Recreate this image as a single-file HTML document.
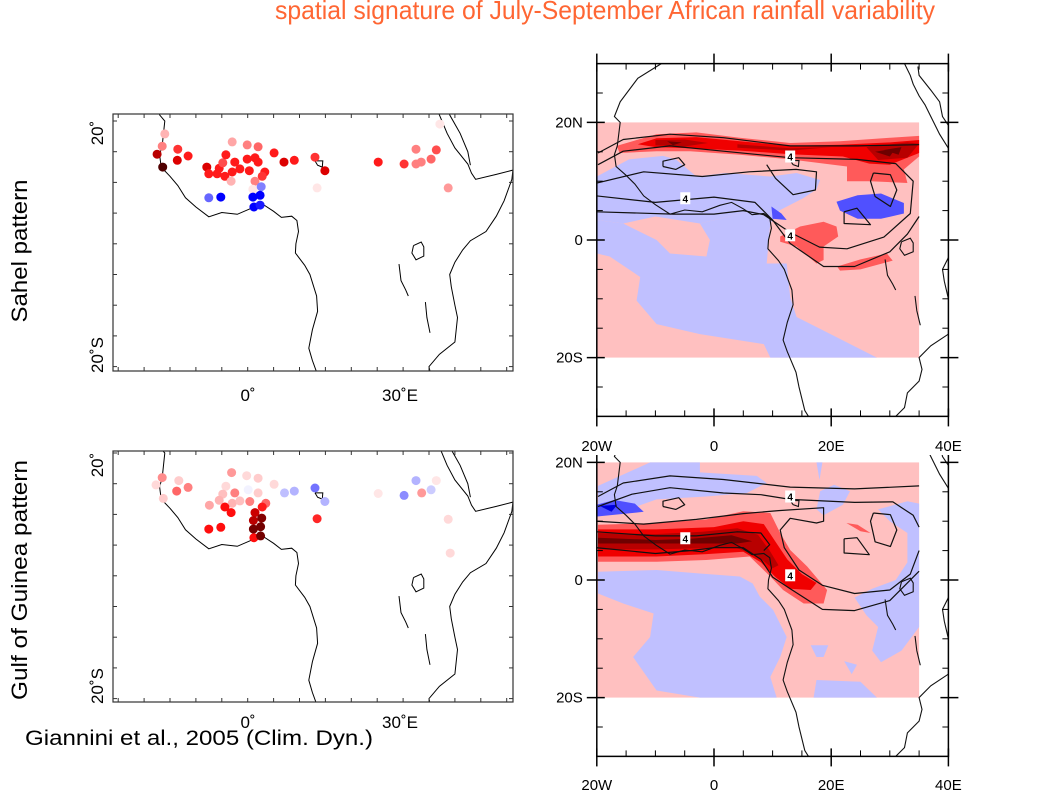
<!DOCTYPE html>
<html><head><meta charset="utf-8"><style>
html,body{margin:0;padding:0;background:#fff;}
svg{display:block;font-family:"Liberation Sans",Arial,sans-serif;}
</style></head><body>
<svg id="fig" width="1058" height="793" viewBox="0 0 1058 793" xmlns="http://www.w3.org/2000/svg">
<defs>
<clipPath id="clipLT"><rect x="113" y="114" width="400" height="257"/></clipPath>
<clipPath id="clipLB"><rect x="113" y="451" width="400" height="251"/></clipPath>
<clipPath id="clipRT"><rect x="597" y="64" width="351" height="353"/></clipPath>
<clipPath id="clipRB"><rect x="597" y="455" width="351" height="301"/></clipPath>
</defs>
<text x="605" y="19" text-anchor="middle" font-size="26" textLength="660" lengthAdjust="spacingAndGlyphs" fill="#FF6633">spatial signature of July-September African rainfall variability</text>
<text transform="translate(27,251) rotate(-90)" text-anchor="middle" font-size="22" textLength="143" lengthAdjust="spacingAndGlyphs" fill="#000">Sahel pattern</text>
<text transform="translate(27,580) rotate(-90)" text-anchor="middle" font-size="22" textLength="240" lengthAdjust="spacingAndGlyphs" fill="#000">Gulf of Guinea pattern</text>
<text x="25" y="745" font-size="21" textLength="348" lengthAdjust="spacingAndGlyphs" fill="#000">Giannini et al., 2005 (Clim. Dyn.)</text>
<g id="root"></g>
</svg>
<script>
// ---- station data: Sahel pattern ----
const sahelLon=[-16,-16.5,-13.5,-17.5,-11.5,-13.6,-16.4,-7.9,-7.5,-5.9,-5.5,-4.8,-4.2,-3,-0.1,2,-2.5,-0.1,1.4,2,-4.4,-3,-1.5,0.3,3.3,2.8,-3.2,1.4,1,2.6,-7.5,-5.2,1,2.4,1.2,2.4,5.1,7,9,13,14.9,13.4,25.2,30.2,32.5,32.5,33.5,35.4,36.4,37.1,38.7];
const sahelLat=[17.9,15.9,15.4,14.6,14.3,13.6,12.5,12.5,11.4,11.4,12.3,13.2,14.5,16.6,16.1,15.8,13.3,13.8,14,13.3,11,11.7,12.2,11.9,11.7,11,10.2,10.2,8.9,9.3,7.5,7.6,7.6,7.9,6,6.3,14.8,13.3,13.6,14.1,11.9,9.1,13.3,13,15.4,13,13.3,13.8,15.3,19.5,9.1];
const sahelVal=[0.3,0.5,0.8,1.2,0.9,1.1,1.5,1.1,0.9,0.9,0.9,0.7,0.9,0.35,0.5,0.6,0.9,0.9,0.9,0.9,0.9,0.9,0.9,0.9,0.9,0.8,0.3,0.5,0.1,-0.5,-0.6,-1,-1,-1,-1,-0.9,0.9,1.1,0.9,0.8,1.1,0.1,0.9,0.8,0.5,0.5,0.5,0.6,0.7,0.1,0.4];
// ---- station data: Gulf of Guinea pattern ----
const guineaLon=[-16.5,-17.7,-13.3,-11.5,-13.7,-16.3,-3.1,-0.2,2,-4.2,0.1,2,-2.5,-4.8,5.1,7.1,9,13,14.9,-7.4,-5.5,-3,-1.5,0.4,3.5,-4.4,-3.2,2.8,1.4,1.1,2.7,1.1,2.5,1.2,2.5,-7.5,-5.2,13.4,25.2,30.2,32.5,33.6,35.4,36.4,38.7,39.1];
const guineaLat=[16,14.8,15.5,14.4,13.8,12.6,16.8,16.3,15.9,14.6,14,13.5,13.5,13.3,14.9,13.5,13.8,14.3,12.1,11.5,12.3,11.8,12.2,12.1,11.8,11.2,10.3,11.2,10.3,9,9.4,7.6,8,6.2,6.5,7.6,7.9,9.3,13.4,13.1,15.5,13.5,14,15.5,9.2,3.7];
const guineaVal=[0.45,0.15,0.2,0.5,0.6,0.2,0.4,0.15,0.2,0.15,-0.05,0.2,0.5,0.25,0.15,-0.25,-0.3,-0.55,-0.3,0.35,0.3,0.3,0.25,0.5,0.6,0.95,0.95,0.9,1.15,1.2,1.35,1.4,1.4,0.95,1.4,0.95,0.95,0.85,0.1,-0.45,-0.3,0.4,-0.2,0.1,0.15,0.15];
// ---- gridded regression fields (lon,lat polygons with shade level) ----
const sahelShadeLevels=["blue1","blue1","blue2","blue3","blue2","red1","red2","red3","red3","red4","red4","red3","red4","red1","red1"];
const sahelShadePolys=[
 [[-20,3.4],[-15.5,2.8],[-9.8,0],[-7.5,-2.3],[-1.3,-2.8],[-0.7,0],[-2.4,2.8],[2.7,4],[7.3,5.1],[9.6,2.8],[9,-4],[12.4,-4],[13,-9.7],[14.1,-13.1],[18.7,-15.4],[27.8,-20],[9.6,-20],[8.5,-17.7],[-2.4,-16],[-9.8,-14.3],[-13.2,-10.3],[-12.6,-6.3],[-17.8,-2.8],[-20,-2.3]],
 [[-20,10.8],[-14.5,13.7],[-8.7,14.3],[-6.5,13.7],[-3,10.8],[2,11.4],[9.6,10.8],[14.1,11.4],[18.1,10.2],[17.5,8.6],[15.2,7.1],[11.3,5.1],[9.6,2.8],[7.3,5.1],[2.7,4],[-2.4,2.8],[-10,4],[-15.5,2.8],[-20,3.4]],
 [[9.8,5.7],[11.5,4.5],[12.4,3.4],[10,3.6]],
 [[23.5,6],[27.5,7],[30,6],[28,4.5],[25,4.8]],
 [[20.9,6.5],[24.5,7.6],[28.5,7.9],[32.4,6.3],[32.4,4.5],[28.5,3.6],[24.5,3.6],[21.5,5]],
 [[-16.6,16],[-9.8,18],[-3,18.3],[4.4,17.4],[13,16.5],[21.5,16.8],[30.1,17.4],[35,17.7],[35,14.2],[32.4,12],[33,9.7],[26.7,10],[22.7,10],[22.7,12.5],[13,13.7],[4.4,14.5],[-4.1,15.1],[-9.8,15.1],[-16.1,14.8]],
 [[-13,16.3],[-9.8,17.3],[-3,17.5],[4.4,16.8],[13,16],[21.5,16.2],[30.1,16.6],[35,17],[35,14.8],[30,12.8],[26.5,13],[22,14.2],[13,14.6],[4.4,15.2],[-4.1,15.6],[-10,15.8]],
 [[-10,17],[-5,17.1],[-1,16.5],[-5,15.9],[-10,16.1]],
 [[26,15.8],[33,16.6],[35,16.4],[33,14],[28,13.6]],
 [[-8,16.8],[-5.5,16.6],[-7,16.1]],
 [[27.5,15],[31,15.6],[30,14.2]],
 [[4,16.3],[13,15.6],[20,15.8],[13,15.2],[4,15.7]],
 [[29,15.3],[32,15.8],[31.5,14.5]],
 [[11.3,0.6],[14.7,2.3],[18.7,3.1],[20.9,2.3],[21.2,0.6],[18.7,-1.1],[18.7,-3.4],[17.5,-4],[14.1,-1.1],[11.3,-0.3]],
 [[21,-4.5],[25,-3.3],[29.5,-2.3],[30.5,-3.5],[25,-5],[21.5,-5.2]]
];
const guineaShadeLevels=["blue1","blue1","blue1","blue1","blue1","blue1","blue1","blue1","blue2","blue3","red1","red2","red3","red4","red1"];
const guineaShadePolys=[
 [[-19.8,1.4],[-9.8,1.7],[-2.4,1.1],[4.4,0.6],[6.6,-0.6],[7.8,-2.8],[10.1,-5.1],[12.4,-9.7],[11.3,-13.1],[9.6,-16.5],[10.7,-20],[-2.4,-20],[-9.8,-18.8],[-13.8,-13.1],[-10.9,-9.7],[-10.3,-5.7],[-15.5,-4],[-19.8,-2.3]],
 [[-19.8,16],[-10.9,20],[-2.4,20],[-2.4,18.3],[7.3,17.7],[9,16.5],[5.6,14.8],[-1.3,14.2],[-9.8,13.7],[-13.8,12.3],[-19.8,10.8]],
 [[28,12],[33,13.4],[35,13],[35,-8],[32,-12],[28.5,-14],[27,-12],[28,-8],[26,-6],[24,-3],[27,-1.5],[31,0],[33,3],[33,8],[30,10]],
 [[18.1,15.1],[20.5,16.2],[23.2,15.1],[22,12.8],[18.7,11],[17.5,12]],
 [[16.5,-11.1],[19.5,-11.1],[18.7,-13.1],[17.5,-13.1]],
 [[22.2,-13.8],[24.4,-14.4],[23.5,-16]],
 [[17.5,-17],[25,-17.3],[27.8,-20],[17,-20]],
 [[17.5,20],[18.5,20],[18,17]],
 [[-20,12.8],[-17,13.6],[-13.5,13],[-12,11.6],[-15,11.3],[-20,10.8]],
 [[-19.5,12.6],[-16.5,12.8],[-17.5,11.6]],
 [[-19.8,9.4],[-9.8,9.7],[-1.3,10.3],[5,11.7],[9.6,11.4],[11.3,8],[13,5.1],[15.9,2.3],[19.3,-1.7],[18.7,-4],[15.3,-4],[11.8,-1.7],[9.6,0.6],[6.1,4],[-1.3,3.4],[-9.8,3.1],[-19.8,3.1]],
 [[-19.8,8.6],[-9.8,8.6],[0,9],[5,10],[8.5,9.5],[10.5,6.5],[12.5,3.5],[15,1],[17.5,-0.5],[16.5,-1.7],[13,-1.5],[10.5,0.5],[8,3],[5,4.8],[-1.3,4.4],[-9.8,4],[-19.8,4]],
 [[-19.8,8],[-10,7.8],[-2,8.2],[4,8.8],[7.5,7.7],[9.5,5],[11,2.5],[10,2],[7.5,4],[3.5,5.6],[-2,5.4],[-10,5.2],[-19.8,5.2]],
 [[-19.8,7.2],[-10,6.8],[-4,7],[3,7.6],[6.5,6.6],[4,6.2],[-4,6.2],[-19.8,6.2]],
 [[22.6,9.7],[24.5,9.4],[26.7,8],[25,8.3]]
];
// ---- contour lines ----
const sahelContours=[
 [[-19.8,14.8],[-15.5,17.1],[-7.5,18],[1.6,17.4],[13,16],[24.4,16],[35,16.2]],
 [[-19.8,12.8],[-15.5,15.1],[-7.5,16],[1.6,15.1],[13,14],[24.4,13.7],[31,13],[34,10],[33.5,4.5],[29,0.5],[22.7,-1.5],[18,-1.2],[13,1.3],[8.5,4.3],[5,5],[0,4.4],[-7,4.4],[-20,4.8]],
 [[-20,7.5],[-10,6.4],[0,7.3],[7,6.4],[10,3.4],[13,-0.6],[18.7,-4.5],[24,-4.5],[30,-2],[33,1],[35,4]],
 [[-20,9.7],[-12,11.6],[-2,10.8],[6,11.6],[14,12],[17.5,11.6],[17.3,8.5],[13.5,7.7],[10.5,10.5],[9,12.8]],
 [[-8.7,12.5],[-6.5,12],[-5,12.8],[-6,14],[-8.7,13.4],[-8.7,12.5]],
 [[27.2,11.4],[30.1,11.1],[31.2,8.5],[30.1,5.7],[27.5,7.4],[26.7,10],[27.2,11.4]],
 [[22.2,4.8],[24.4,5.4],[26.7,2.6],[22.2,2.8],[22.2,4.8]]
];
const guineaContours=[
 [[-19.8,14.2],[-15.5,16.5],[-7.5,17.7],[1.6,17.1],[13,15.8],[24,15.5],[35,16]],
 [[-19.8,12.5],[-14,14.6],[-7.5,15.7],[1.6,14.8],[8,14.5],[13,13.7],[24,13.2],[30.5,13.3],[34,11],[35,9]],
 [[-20,10],[-12,9.5],[-3,10.3],[5,11.3],[11,11.8],[18.7,12.3],[18.7,10],[17.5,9.7],[13,10.5],[11.3,8.5],[12,5.5],[14.5,1.7],[18.5,-0.9],[24,-2.3],[30,-1.7],[33.5,1],[35,5]],
 [[-20,5.5],[-10,4.5],[-4,5],[0,5.5],[5,5.5],[8,3.5],[10,0.5],[13,-1.5],[18.5,-5],[24,-5.2],[30,-3.5],[33,-0.5],[35,1.5]],
 [[-20,8.2],[-10,7.5],[-3,7.5],[4,8.2],[8,8],[9.5,6],[8.5,5]],
 [[-8.7,12.5],[-6.5,12],[-5,12.8],[-6,14],[-8.7,13.4],[-8.7,12.5]],
 [[27.2,11.4],[30.1,11.1],[31.2,8.5],[30.1,5.7],[27.5,6.5],[26.7,10],[27.2,11.4]],
 [[22.2,7],[24.4,7.2],[26.5,4.3],[22.2,4.6],[22.2,7]]
];
const contourLabelLon=[13,-4.9,13];
const contourLabelLat=[14.2,7.1,0.8];
const contourLabelText=["4","4","4"];
// ---- coastlines ----
const coastAfrica=[[-9,30],[-13,27.5],[-16,23.5],[-17,21],[-16,20],[-16.5,16],[-17,14.5],[-16.7,12.5],[-15,11],[-13.5,9.5],[-12,7.5],[-10,6],[-7.5,4.4],[-5,5.1],[-2,4.8],[1,5.9],[3,6.4],[5,5.3],[6.5,4.3],[8.5,4.5],[9.5,3.8],[9.8,2],[9.3,0],[9.2,-1.5],[11,-3.5],[12,-5],[13.3,-8.5],[13.5,-11],[12.5,-14],[11.8,-17],[12.5,-19],[14,-22.5],[14.5,-25],[15.5,-29],[18,-33],[20,-34.8],[25,-34],[27,-33.5],[30,-31],[32.5,-28.5],[33,-26],[35,-24],[35.5,-22],[35,-20],[37,-18],[40,-16],[40.5,-12],[40,-10],[39.3,-7],[39,-5],[40,-3],[41.5,-1],[43,0.5],[46,2],[48,4.5],[49.5,7],[51,10.5],[51.2,12],[48,11.3],[44,10.5],[43.2,11.5],[42.5,13],[40,15.6],[38.5,18],[37,21],[36,23],[35,24.5],[34,26.5],[33.5,28],[32.5,30]];
const coastArabia=[[43,12.8],[42.5,15],[41,18],[39,21],[38.5,23.5],[37,25.5],[35,28],[34.8,29.5]];
const lakeTanganyika=[[29.2,-3.3],[29.6,-6],[30.5,-7.5],[31,-8.5]];
const lakeMalawi=[[34.3,-9.5],[34.6,-12],[35.2,-14.5]];
const lakeVictoria=[[32,-0.3],[33.5,0.3],[34,-0.5],[34,-2],[32.5,-2.6],[31.7,-1.5],[32,-0.3]];
const lakeChad=[[13,13.5],[14.5,13.5],[14.4,12.5],[13.5,12.8],[13,13.5]];
const coastLines=[coastAfrica,coastArabia,lakeTanganyika,lakeMalawi,lakeVictoria,lakeChad];
const rightTickLat=[20,0,-20];
const rightTickLatText=["20N","0","20S"];
const rightTickLon=[-20,0,20,40];
const rightTickLonText=["20W","0","20E","40E"];

const NS="http://www.w3.org/2000/svg";
const root=document.getElementById('root');
function mk(tag,attrs,parent){const e=document.createElementNS(NS,tag);for(const k in attrs)e.setAttribute(k,attrs[k]);(parent||root).appendChild(e);return e;}
// axis functions
const leftX=lon=>247.7+lon*5.18;
const leftYTop=lat=>121+(20-lat)*6.14;
const leftYBot=lat=>453+(20-lat)*6.14;
const rightX=lon=>714+lon*5.86;
const rightYTop=lat=>240-lat*5.88;
const rightYBot=lat=>580-lat*5.88;
const shadeCol={blue1:"#C0C0FF",blue2:"#5050FF",blue3:"#0000DD",red1:"#FF5A5A",red2:"#F00000",red3:"#B80000",red4:"#6E0000"};
function mix(a,b,t){t=Math.max(0,Math.min(1,t));return a.map((v,i)=>Math.round(v+(b[i]-v)*t));}
function dotColor(v){let c;if(v>=0){c=v<=1?mix([255,255,255],[255,0,0],v):mix([255,0,0],[80,0,0],(v-1)/0.5);}else{c=mix([255,255,255],[0,0,255],-v);}return `rgb(${c[0]},${c[1]},${c[2]})`;}
function path(pts,fx,fy,close){return pts.map((p,i)=>(i?'L':'M')+fx(p[0]).toFixed(1)+' '+fy(p[1]).toFixed(1)).join(' ')+(close?' Z':'');}

function leftPanel(name,fy,clip,y0,y1,lons,lats,vals,latLabelY,xlabY){
  const g=mk('g',{'clip-path':`url(#${clip})`});
  
  
  coastLines.forEach(c=>{const p=mk('path',{d:path(c,leftX,fy,false),fill:'none',stroke:'#000','stroke-width':1},g);
    
    });
  for(let i=0;i<lons.length;i++){
    const d=mk('circle',{cx:leftX(lons[i]).toFixed(1),cy:fy(lats[i]).toFixed(1),r:4.5,fill:dotColor(vals[i])},g);
    
    
  }
  const f=mk('rect',{x:113,y:y0,width:400,height:y1-y0,fill:'none',stroke:'#333','stroke-width':1.2});
  
  
  for(let lon=-25;lon<=50;lon+=5){const x=leftX(lon);
    mk('line',{x1:x,y1:y0,x2:x,y2:y0+4,stroke:'#333'});mk('line',{x1:x,y1:y1,x2:x,y2:y1-4,stroke:'#333'});}
  for(let lat=20;lat>=-20;lat-=5){const y=fy(lat);if(y<y0||y>y1)continue;
    mk('line',{x1:113,y1:y,x2:117,y2:y,stroke:'#333'});mk('line',{x1:513,y1:y,x2:509,y2:y,stroke:'#333'});}
  const t1=mk('text',{transform:`translate(103,${latLabelY[0]}) rotate(-90)`,'text-anchor':'middle','font-size':17});t1.textContent='20˚';
  
  
  const t2=mk('text',{transform:`translate(103,${latLabelY[1]}) rotate(-90)`,'text-anchor':'middle','font-size':17});t2.textContent='20˚S';
  
  
  const t3=mk('text',{x:248,y:xlabY,'text-anchor':'middle','font-size':17});t3.textContent='0˚';
  
  
  const t4=mk('text',{x:400,y:xlabY,'text-anchor':'middle','font-size':17});t4.textContent='30˚E';
  
  
}
leftPanel('sahel-stations',leftYTop,'clipLT',114,371,sahelLon,sahelLat,sahelVal,[133,355],401);
leftPanel('guinea-stations',leftYBot,'clipLB',451,702,guineaLon,guineaLat,guineaVal,[465,686],728);

function rightPanel(name,fy,clip,fy0,fy1,polys,levels,contours,labY){
  const g=mk('g',{'clip-path':`url(#${clip})`});
  
  
  const base=mk('rect',{x:rightX(-20),y:fy(20),width:rightX(35)-rightX(-20),height:fy(-20)-fy(20),fill:'#FFC0C0'},g);
  
  
  polys.forEach((p,i)=>{const e=mk('path',{d:path(p,rightX,fy,true),fill:shadeCol[levels[i]]},g);
    
    });
  coastLines.forEach(c=>{const p=mk('path',{d:path(c,rightX,fy,false),fill:'none',stroke:'#111','stroke-width':1.1},g);
    
    });
  contours.forEach(c=>{const p=mk('path',{d:path(c,rightX,fy,false),fill:'none',stroke:'#111','stroke-width':1.2,'stroke-linejoin':'round'},g);
    
    });
  for(let i=0;i<contourLabelLon.length;i++){
    const x=rightX(contourLabelLon[i]),y=fy(contourLabelLat[i]);
    mk('rect',{x:x-5,y:y-6,width:10,height:12,fill:'#fff'},g);
    const t=mk('text',{x:x,y:y+4,'text-anchor':'middle','font-size':10,'font-weight':'bold'},g);t.textContent=contourLabelText[i];
    
    
  }
  const xl=rightX(-20),xr=rightX(40);
  const fr=mk('path',{d:`M${xl} ${fy0} L${xl} ${fy1} L${xr} ${fy1} L${xr} ${fy0}`+(fy0<100?` Z`:''),fill:'none',stroke:'#000','stroke-width':1.5});
  
  
  for(let lon=-15;lon<40;lon+=5){if(lon%20===0)continue;const x=rightX(lon);
    mk('line',{x1:x,y1:fy1,x2:x,y2:fy1-6,stroke:'#000'});if(fy0<100)mk('line',{x1:x,y1:fy0,x2:x,y2:fy0+6,stroke:'#000'});}
  for(let lat=-25;lat<=25;lat+=5){if(lat%20===0)continue;const y=fy(lat);if(y<fy0)continue;
    mk('line',{x1:xl,y1:y,x2:xl+6,y2:y,stroke:'#000'});mk('line',{x1:xr,y1:y,x2:xr-6,y2:y,stroke:'#000'});}
  rightTickLon.forEach((lon,i)=>{const x=rightX(lon);
    mk('line',{x1:x,y1:fy1-8,x2:x,y2:fy1+10,stroke:'#000','stroke-width':1.5});
    if(fy0<100)mk('line',{x1:x,y1:fy0-10,x2:x,y2:fy0+8,stroke:'#000','stroke-width':1.5});
    const t=mk('text',{x:x,y:labY,'text-anchor':'middle','font-size':15});t.textContent=rightTickLonText[i];
    
    });
  rightTickLat.forEach((lat,i)=>{const y=fy(lat);
    mk('line',{x1:xl-10,y1:y,x2:xl+8,y2:y,stroke:'#000','stroke-width':1.5});
    mk('line',{x1:xr-8,y1:y,x2:xr+10,y2:y,stroke:'#000','stroke-width':1.5});
    const t=mk('text',{x:xl-14,y:y+5,'text-anchor':'end','font-size':15});t.textContent=rightTickLatText[i];
    
    });
}
rightPanel('sahel-field',rightYTop,'clipRT',rightYTop(30),rightYTop(-30),sahelShadePolys,sahelShadeLevels,sahelContours,451);
rightPanel('guinea-field',rightYBot,'clipRB',455,rightYBot(-30),guineaShadePolys,guineaShadeLevels,guineaContours,790);
</script>
</body></html>
